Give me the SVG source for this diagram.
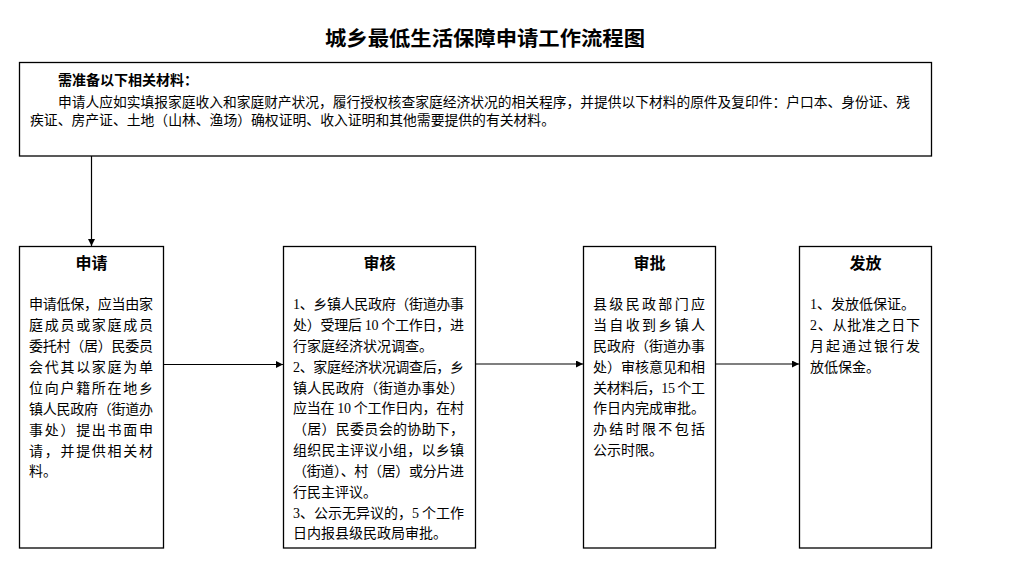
<svg xmlns="http://www.w3.org/2000/svg" width="1015" height="584" viewBox="0 0 1015 584">
<style>
.box{fill:#fff;stroke:#000;stroke-width:1.3}
.t{font-family:"Noto Sans CJK SC","Noto Sans",sans-serif;font-size:14px;fill:#000}
.h{font-family:"Noto Sans CJK SC","Noto Sans",sans-serif;font-size:16px;font-weight:bold;fill:#000;text-anchor:middle}
.n{font-family:"Liberation Serif",serif}
.ln{stroke:#000;stroke-width:1.2;fill:none}
</style>
<defs>
<marker id="ar" viewBox="0 0 10 10" refX="10" refY="5" markerWidth="8" markerHeight="7" markerUnits="userSpaceOnUse" orient="auto">
<path d="M0,0 L10,5 L0,10 z" fill="#000"/>
</marker>
</defs>
<rect width="1015" height="584" fill="#fff"/>
<text x="485" y="46" text-anchor="middle" font-family="Noto Sans CJK SC,sans-serif" font-size="20" font-weight="bold" textLength="320" lengthAdjust="spacingAndGlyphs">城乡最低生活保障申请工作流程图</text>

<g id="materials">
<rect class="box" x="19.5" y="62.5" width="912" height="93.5"/>
<text class="t" x="58" y="85" font-weight="bold">需准备以下相关材料：</text>
<text class="t" x="58" y="107" textLength="852" lengthAdjust="spacingAndGlyphs">申请人应如实填报家庭收入和家庭财产状况，履行授权核查家庭经济状况的相关程序，并提供以下材料的原件及复印件：户口本、身份证、残</text>
<text class="t" x="30" y="125" textLength="525" lengthAdjust="spacingAndGlyphs">疾证、房产证、土地（山林、渔场）确权证明、收入证明和其他需要提供的有关材料。</text>
</g>

<g id="apply">
<rect class="box" x="19.5" y="246.5" width="144" height="301.5"/>
<text class="h" x="91.5" y="269">申请</text>
<text class="t" x="29" y="309" textLength="124">申请低保，应当由家</text>
<text class="t" x="29" y="330" textLength="124">庭成员或家庭成员</text>
<text class="t" x="29" y="351" textLength="124">委托村（居）民委员</text>
<text class="t" x="29" y="372" textLength="124">会代其以家庭为单</text>
<text class="t" x="29" y="393" textLength="124">位向户籍所在地乡</text>
<text class="t" x="29" y="414" textLength="124">镇人民政府（街道办</text>
<text class="t" x="29" y="435" textLength="124">事处）提出书面申</text>
<text class="t" x="29" y="456" textLength="124">请，并提供相关材</text>
<text class="t" x="29" y="476">料。</text>
</g>

<g id="review">
<rect class="box" x="283.5" y="246.5" width="192" height="301.5"/>
<text class="h" x="379.5" y="269">审核</text>
<text class="t" x="293" y="309" textLength="171"><tspan class="n">1</tspan>、乡镇人民政府（街道办事</text>
<text class="t" x="293" y="330" textLength="171">处）受理后 <tspan class="n">10</tspan> 个工作日，进</text>
<text class="t" x="293" y="351">行家庭经济状况调查。</text>
<text class="t" x="293" y="372" textLength="171"><tspan class="n">2</tspan>、家庭经济状况调查后，乡</text>
<text class="t" x="293" y="393" textLength="171">镇人民政府（街道办事处）</text>
<text class="t" x="293" y="413" textLength="171">应当在 <tspan class="n">10</tspan> 个工作日内，在村</text>
<text class="t" x="293" y="434" textLength="171">（居）民委员会的协助下，</text>
<text class="t" x="293" y="455" textLength="171">组织民主评议小组，以乡镇</text>
<text class="t" x="293" y="476" textLength="171">（街道）、村（居）或分片进</text>
<text class="t" x="293" y="497">行民主评议。</text>
<text class="t" x="293" y="518" textLength="171"><tspan class="n">3</tspan>、公示无异议的，<tspan class="n">5</tspan> 个工作</text>
<text class="t" x="293" y="538">日内报县级民政局审批。</text>
</g>

<g id="approve">
<rect class="box" x="583.5" y="246.5" width="132" height="301.5"/>
<text class="h" x="649.5" y="269">审批</text>
<text class="t" x="593" y="309" textLength="112">县级民政部门应</text>
<text class="t" x="593" y="330" textLength="112">当自收到乡镇人</text>
<text class="t" x="593" y="351" textLength="112">民政府（街道办事</text>
<text class="t" x="593" y="372" textLength="112">处）审核意见和相</text>
<text class="t" x="593" y="393" textLength="112">关材料后，<tspan class="n">15</tspan> 个工</text>
<text class="t" x="593" y="413" textLength="112">作日内完成审批。</text>
<text class="t" x="593" y="434" textLength="112">办结时限不包括</text>
<text class="t" x="593" y="455">公示时限。</text>
</g>

<g id="issue">
<rect class="box" x="799.5" y="246.5" width="132" height="301.5"/>
<text class="h" x="865.5" y="269">发放</text>
<text class="t" x="810" y="309"><tspan class="n">1</tspan>、发放低保证。</text>
<text class="t" x="810" y="330" textLength="110"><tspan class="n">2</tspan>、从批准之日下</text>
<text class="t" x="810" y="351" textLength="110">月起通过银行发</text>
<text class="t" x="810" y="372">放低保金。</text>
</g>

<g id="connectors">
<line class="ln" x1="91.5" y1="156" x2="91.5" y2="246" marker-end="url(#ar)"/>
<line class="ln" x1="163.5" y1="364.5" x2="283" y2="364.5" marker-end="url(#ar)"/>
<line class="ln" x1="475.5" y1="364" x2="583" y2="364" marker-end="url(#ar)"/>
<line class="ln" x1="715.5" y1="364" x2="799" y2="364" marker-end="url(#ar)"/>
</g>
</svg>
